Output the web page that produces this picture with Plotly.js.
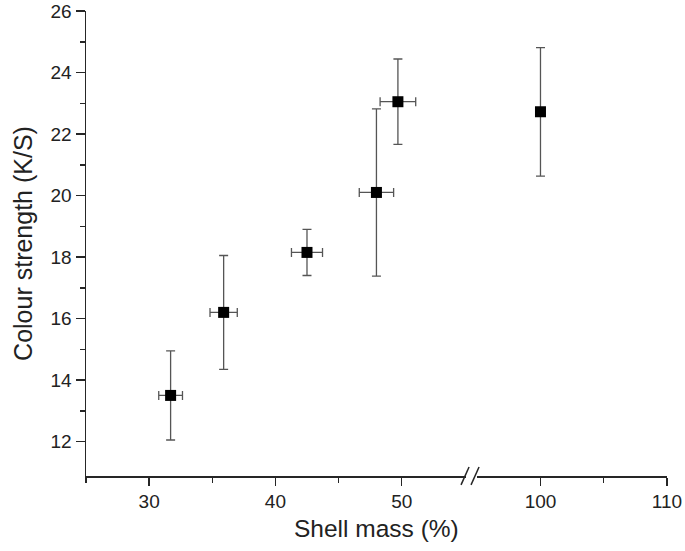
<!DOCTYPE html>
<html>
<head>
<meta charset="utf-8">
<script src="https://cdn.plot.ly/plotly-3.0.1.min.js"></script>
<style>html,body{margin:0;padding:0;background:#fff;}#chart{width:685px;height:551px;}</style>
</head>
<body>
<div id="chart"></div>
<script>
// Data
var shellMass = [31.7, 35.9, 42.5, 48.0, 49.7, 100];
var colourStrength = [13.5, 16.2, 18.15, 20.1, 23.05, 22.72];
var yErr = [1.45, 1.85, 0.75, 2.72, 1.39, 2.09];
var xErr = [0.94, 1.08, 1.23, 1.36, 1.41, 0];
var xTicksLeft = [30, 40, 50];
var xTicksRight = [100, 110];
var yTicks = [12, 14, 16, 18, 20, 22, 24, 26];
var xTitle = 'Shell mass (%)';
var yTitle = 'Colour strength (K/S)';

var FONT = 'Liberation Sans, Arial, sans-serif';
var AX = '#262626';
var ERR = '#555555';

var leftIdx = [], rightIdx = [];
shellMass.forEach(function(v, i){ (v < 60 ? leftIdx : rightIdx).push(i); });
function pick(arr, idx){ return idx.map(function(i){ return arr[i]; }); }

function makeTrace(idx, xa){
  return {
    type: 'scatter', mode: 'markers', xaxis: xa, yaxis: 'y',
    x: pick(shellMass, idx), y: pick(colourStrength, idx),
    marker: {symbol: 'square', size: 11, color: '#000'},
    error_y: {type: 'data', array: pick(yErr, idx), visible: true, color: ERR, thickness: 1.3, width: 4.5},
    error_x: {type: 'data', array: pick(xErr, idx), visible: true, color: ERR, thickness: 1.3, width: 4.5},
    showlegend: false, hoverinfo: 'x+y'
  };
}

var data = [makeTrace(leftIdx, 'x'), makeTrace(rightIdx, 'x2')];

var commonX = {
  showline: true, linecolor: AX, linewidth: 1.5, mirror: false,
  ticks: 'outside', ticklen: 8, tickwidth: 1.5, tickcolor: AX,
  showgrid: false, zeroline: false,
  tickfont: {family: FONT, size: 19, color: '#222'},
  tickmode: 'array'
};

var layout = {
  width: 685, height: 551,
  margin: {l: 86, r: 18, t: 11, b: 75, pad: 0},
  paper_bgcolor: '#fff', plot_bgcolor: '#fff',
  showlegend: false,
  xaxis: Object.assign({}, commonX, {
    domain: [0, 0.654], range: [25, 55.09], tickvals: xTicksLeft,
    anchor: 'y',
    minor: {tickmode: 'array', tickvals: [25, 35, 45], ticks: 'outside', ticklen: 5, tickwidth: 1.5, tickcolor: AX, showgrid: false}
  }),
  xaxis2: Object.assign({}, commonX, {
    domain: [0.6725, 1], range: [94.96, 110], tickvals: xTicksRight,
    anchor: 'y',
    minor: {tickmode: 'array', tickvals: [105], ticks: 'outside', ticklen: 5, tickwidth: 1.5, tickcolor: AX, showgrid: false}
  }),
  yaxis: {
    range: [10.88, 26], tickmode: 'array', tickvals: yTicks,
    showline: true, linecolor: AX, linewidth: 1.5,
    ticks: 'outside', ticklen: 9, tickwidth: 1.5, tickcolor: AX,
    minor: {tickmode: 'array', tickvals: [13, 15, 17, 19, 21, 23, 25], ticks: 'outside', ticklen: 5, tickwidth: 1.5, tickcolor: AX, showgrid: false},
    showgrid: false, zeroline: false,
    tickfont: {family: FONT, size: 19, color: '#222'},
    title: {text: yTitle, font: {family: FONT, size: 25, color: '#222'}, standoff: 11}
  },
  annotations: [
    {text: xTitle, xref: 'paper', yref: 'paper', x: 0.5, y: 0, xanchor: 'center', yanchor: 'middle',
     yshift: -52, showarrow: false, font: {family: FONT, size: 24.5, color: '#222'}}
  ],
  shapes: [
    {type: 'line', xref: 'paper', yref: 'paper', x0: 0.6455, y0: -0.019, x1: 0.6593, y1: 0.0195, line: {color: AX, width: 1.5}},
    {type: 'line', xref: 'paper', yref: 'paper', x0: 0.6627, y0: -0.019, x1: 0.6765, y1: 0.0195, line: {color: AX, width: 1.5}}
  ]
};

Plotly.newPlot('chart', data, layout, {displayModeBar: false, staticPlot: true});
</script>
</body>
</html>
